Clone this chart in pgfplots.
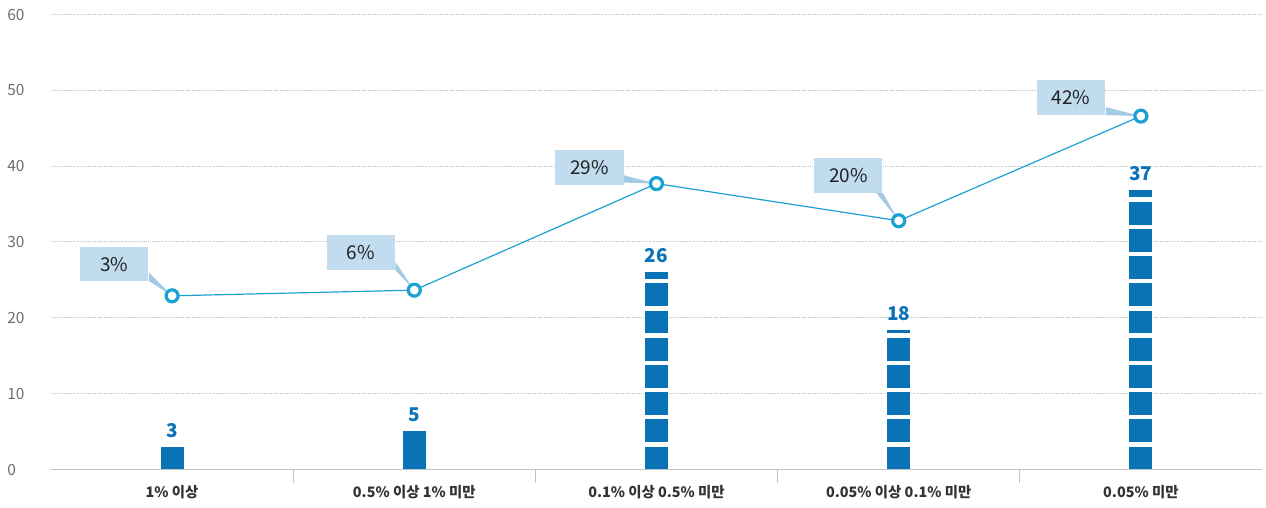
\documentclass[border=0pt]{standalone}
\usepackage{fontspec}
\setmainfont{Noto Sans CJK KR}
\usepackage{pgfplots}
\usepackage{pgfplotstable}
\pgfplotsset{compat=1.18}
\definecolor{barblue}{RGB}{10,115,182}
\definecolor{linecyan}{RGB}{27,161,211}
\definecolor{boxfill}{RGB}{192,220,238}
\definecolor{ptrfill}{RGB}{163,203,230}
\definecolor{gridgray}{RGB}{195,195,195}
\definecolor{ticklab}{RGB}{110,110,110}
\definecolor{catlab}{RGB}{51,51,51}
\definecolor{txt}{RGB}{34,34,34}

\pgfplotstableread{
x y dx dy lab
0 22.9 -28.85 15.8 3
1 23.65 -26.75 18.75 6
2 37.7 -33.5 8.15 29
3 32.8 -25.15 22.6 20
4 46.6 -34.85 9.2 42
}\linedata

\pgfplotstableread{
x y lab
0 3.0 3
1 5.1 5
2 26.0 26
3 18.4 18
4 36.8 37
}\bardata

\begin{document}
\begin{tikzpicture}
\path[use as bounding box] (-25.5pt,-19.25pt) rectangle (607.5pt,234.75pt);
\begin{axis}[
  at={(0pt,0pt)}, anchor=south west,
  scale only axis, width=605.5pt, height=227.5pt,
  xmin=-0.5, xmax=4.5, ymin=0, ymax=60,
  axis x line=bottom, axis y line=left,
  x axis line style={-, draw=gridgray, line width=0.6pt},
  y axis line style={draw=none},
  ytick={0,10,...,60},
  ytick style={draw=none},
  ymajorgrids,
  grid style={draw=gridgray, line width=0.5pt, dash pattern=on 0.6pt off 0.5pt},
  /pgf/number format/assume math mode=true,
  yticklabel style={anchor=west, inner sep=0pt, xshift=-15pt, font=\fontsize{7.75}{9}\selectfont, text=ticklab},
  xtick={0.5,1.5,2.5,3.5},
  xticklabels={,,,},
  tick align=outside,
  major tick length=7pt,
  xtick style={draw=gridgray, line width=0.5pt},
  extra x ticks={0,1,2,3,4},
  extra x tick labels={1\% 이상, 0.5\% 이상 1\% 미만, 0.1\% 이상 0.5\% 미만, 0.05\% 이상 0.1\% 미만, 0.05\% 미만},
  extra x tick style={major tick length=0pt, grid=none,
     tick label style={font=\bfseries\fontsize{7.2}{9}\selectfont, text=catlab, yshift=-4.5pt}},
  clip=false,
]
% bars
\addplot[barblue, line width=11.5pt, mark=none] coordinates {(0,0) (0,3.0)};
\addplot[barblue, line width=11.5pt, mark=none] coordinates {(1,0) (1,5.1)};
\addplot[barblue, line width=11.5pt, mark=none, dash pattern=on 11.45pt off 2.15pt] coordinates {(2,0) (2,26.0)};
\addplot[barblue, line width=11.5pt, mark=none, dash pattern=on 11.45pt off 2.15pt] coordinates {(3,0) (3,18.4)};
\addplot[barblue, line width=11.5pt, mark=none, dash pattern=on 11.45pt off 2.15pt] coordinates {(4,0) (4,36.8)};
% bar labels
\addplot[draw=none, mark=none, nodes near coords, point meta=explicit symbolic,
  every node near coord/.append style={anchor=south, inner sep=0pt, yshift=4.5pt,
    font=\bfseries\fontsize{9.5}{11}\selectfont, text=barblue}]
  table[x=x, y=y, meta=lab] {\bardata};
% callout pointer wedges (from each box edge to its data point)
\addplot[fill=ptrfill, draw=none, mark=none] coordinates {(0,22.9) (-0.0962,24.878) (-0.0962,25.973)} --cycle;
\addplot[fill=ptrfill, draw=none, mark=none] coordinates {(1,23.65) (0.9215,26.287) (0.9215,27.382)} --cycle;
\addplot[fill=ptrfill, draw=none, mark=none] coordinates {(2,37.7) (1.865,37.832) (1.865,38.795)} --cycle;
\addplot[fill=ptrfill, draw=none, mark=none] coordinates {(3,32.8) (2.9067,36.492) (2.9339,36.492)} --cycle;
\addplot[fill=ptrfill, draw=none, mark=none] coordinates {(4,46.6) (3.8555,46.732) (3.8555,47.787)} --cycle;
% callout boxes
\addplot[draw=none, mark=none, nodes near coords, point meta=explicit symbolic,
  visualization depends on={\thisrow{dx} \as \dx},
  visualization depends on={\thisrow{dy} \as \dy},
  nodes near coords={\pgfplotspointmeta\%},
  every node near coord/.append style={rectangle, anchor=center, fill=boxfill, draw=none,
    minimum width=34pt, minimum height=17.25pt, inner sep=0pt,
    xshift=\dx pt, yshift=\dy pt, text=txt, font=\fontsize{9.5}{11}\selectfont}]
  table[x=x, y=y, meta=lab] {\linedata};
% line
\addplot[linecyan, line width=0.6pt, mark=*, mark size=3pt,
  mark options={draw=linecyan, fill=white, line width=1.6pt}]
  table[x=x, y=y] {\linedata};
\end{axis}
\end{tikzpicture}
\end{document}
